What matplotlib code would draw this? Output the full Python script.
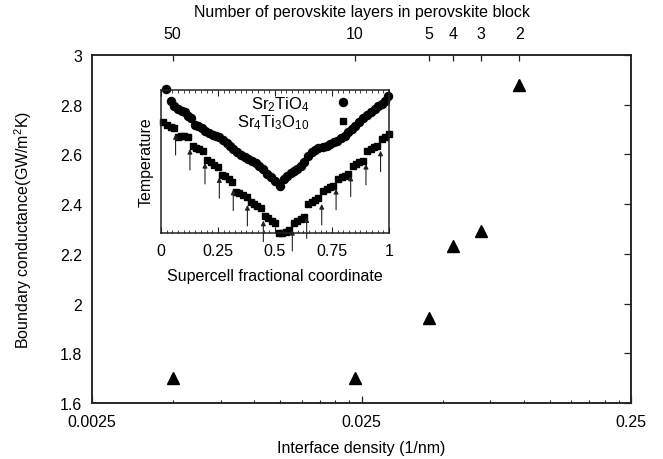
import matplotlib
matplotlib.use("Agg")
import matplotlib.pyplot as plt

plt.rcParams['font.family'] = ['Liberation Sans', 'DejaVu Sans']
plt.rcParams['mathtext.fontset'] = 'custom'
plt.rcParams['mathtext.rm'] = 'Liberation Sans'
plt.rcParams['mathtext.it'] = 'Liberation Sans:italic'
plt.rcParams['font.size'] = 11.5

# ---------------- main data ----------------
interface_density = [0.00498, 0.0236, 0.0446, 0.0545, 0.0694, 0.0962]   # 1/nm
n_layers = [50, 10, 5, 4, 3, 2]
conductance = [1.70, 1.70, 1.94, 2.23, 2.29, 2.88]                      # GW/m^2K

x_major = [0.0025, 0.025, 0.25]
x_major_labels = ["0.0025", "0.025", "0.25"]
y_ticks = [1.6, 1.8, 2.0, 2.2, 2.4, 2.6, 2.8, 3.0]
y_tick_labels = ["1.6", "1.8", "2", "2.2", "2.4", "2.6", "2.8", "3"]

# ---------------- inset data (normalised temperature) ----------------
sr2_x = [0.020, 0.042, 0.058, 0.076, 0.091, 0.105, 0.120, 0.130, 0.149, 0.164,
         0.178, 0.193, 0.212, 0.227, 0.241, 0.256, 0.270, 0.288, 0.303, 0.317,
         0.335, 0.349, 0.368, 0.383, 0.398, 0.417, 0.431, 0.449, 0.463, 0.481,
         0.500, 0.522, 0.539, 0.554, 0.569, 0.583, 0.598, 0.613, 0.627, 0.646,
         0.661, 0.675, 0.690, 0.709, 0.727, 0.741, 0.759, 0.773, 0.788, 0.807,
         0.822, 0.836, 0.851, 0.870, 0.887, 0.905, 0.920, 0.939, 0.953, 0.968,
         0.982, 0.997]
sr2_t = [1.005, 0.923, 0.884, 0.865, 0.854, 0.842, 0.819, 0.800, 0.754, 0.745,
         0.731, 0.715, 0.698, 0.684, 0.680, 0.668, 0.652, 0.629, 0.610, 0.587,
         0.564, 0.545, 0.529, 0.517, 0.503, 0.490, 0.471, 0.448, 0.413, 0.390,
         0.367, 0.327, 0.378, 0.401, 0.420, 0.434, 0.448, 0.471, 0.499, 0.536,
         0.564, 0.580, 0.592, 0.603, 0.610, 0.622, 0.633, 0.645, 0.661, 0.680,
         0.703, 0.726, 0.749, 0.777, 0.800, 0.824, 0.847, 0.865, 0.884, 0.900,
         0.923, 0.958]

sr4_x = [0.010, 0.028, 0.042, 0.057,
         0.073, 0.088, 0.102, 0.117,
         0.139, 0.154, 0.168, 0.183,
         0.203, 0.219, 0.234, 0.249,
         0.266, 0.281, 0.298, 0.313,
         0.329, 0.344, 0.361, 0.376,
         0.393, 0.408, 0.423, 0.437,
         0.456, 0.471, 0.485, 0.500, 0.518, 0.532, 0.547, 0.563,
         0.583, 0.598, 0.613, 0.627,
         0.646, 0.661, 0.675, 0.690,
         0.712, 0.727, 0.741, 0.756,
         0.778, 0.792, 0.807, 0.822,
         0.841, 0.855, 0.870, 0.885,
         0.905, 0.920, 0.934, 0.949,
         0.968, 0.982, 1.000]
sr4_t = [0.773, 0.754, 0.738, 0.731,
         0.673, 0.675, 0.675, 0.668,
         0.606, 0.594, 0.587, 0.575,
         0.513, 0.494, 0.478, 0.464,
         0.406, 0.397, 0.378, 0.360,
         0.290, 0.281, 0.267, 0.251,
         0.216, 0.204, 0.188, 0.174,
         0.123, 0.104, 0.088, 0.072, 0.002, 0.000, 0.007, 0.021,
         0.072, 0.086, 0.100, 0.114,
         0.204, 0.216, 0.232, 0.244,
         0.297, 0.309, 0.320, 0.332,
         0.378, 0.390, 0.401, 0.413,
         0.471, 0.483, 0.494, 0.506,
         0.575, 0.587, 0.599, 0.610,
         0.657, 0.668, 0.691]

arrow_x = [0.064, 0.127, 0.193, 0.256, 0.317, 0.379, 0.449,
           0.576, 0.639, 0.705, 0.768, 0.832, 0.899, 0.963]
arrow_tip = [0.691, 0.587, 0.490, 0.390, 0.304, 0.197, 0.088,
             0.023, 0.111, 0.204, 0.309, 0.401, 0.483, 0.575]
arrow_len = 0.146

inset_ticks = [0, 0.25, 0.5, 0.75, 1]
inset_tick_labels = ["0", "0.25", "0.5", "0.75", "1"]

INK = '#222222'
FS = 11.5

fig = plt.figure(figsize=(6.63, 4.60), dpi=100)
ax = fig.add_axes([0.1388, 0.1217, 0.8129, 0.7566])

ax.plot(interface_density, conductance, linestyle='none', marker='^',
        ms=9, color='black', clip_on=False)

ax.set_xscale('log')
ax.set_xlim(0.0025, 0.25)
ax.set_ylim(1.6, 3.0)
ax.set_xticks(x_major)
ax.set_xticklabels(x_major_labels)
minor = [k * d for d in (0.0025, 0.025) for k in range(2, 10)]
ax.set_xticks(minor, minor=True)
ax.set_xticklabels([], minor=True)
ax.set_yticks(y_ticks)
ax.set_yticklabels(y_tick_labels)

for s in ax.spines.values():
    s.set_color(INK)
    s.set_linewidth(1.1)

ax.tick_params(axis='x', which='major', direction='in', length=5, width=0.9,
               color=INK, top=False, bottom=True, pad=8, labelsize=FS)
ax.tick_params(axis='x', which='minor', direction='in', length=2.5, width=0.8,
               color=INK, top=False, bottom=True)
ax.tick_params(axis='y', which='major', direction='in', length=5, width=0.9,
               color=INK, left=False, right=True, labelleft=True,
               labelright=False, pad=7, labelsize=FS)

ax.set_xlabel("Interface density (1/nm)", fontsize=FS, labelpad=8)
ax.set_ylabel("Boundary conductance(GW/m$^2$K)", fontsize=FS, labelpad=19)

# top axis: number of perovskite layers
axt = ax.twiny()
axt.set_xscale('log')
axt.set_xlim(ax.get_xlim())
axt.set_xticks(interface_density)
axt.set_xticklabels([str(n) for n in n_layers])
axt.set_xticks([], minor=True)
axt.tick_params(axis='x', direction='in', length=4.5, width=0.9, color=INK,
                pad=10, labelsize=FS)
axt.set_xlabel("Number of perovskite layers in perovskite block",
               fontsize=FS, labelpad=7)
for s in axt.spines.values():
    s.set_color(INK)
    s.set_linewidth(1.1)

# ---------------- inset ----------------
ins = fig.add_axes([0.2428, 0.4907, 0.3439, 0.3122])
ins.plot(sr2_x, sr2_t, linestyle='none', marker='o', ms=5.8, color='black',
         clip_on=False, label='Sr$_2$TiO$_4$')
ins.plot(sr4_x, sr4_t, linestyle='none', marker='s', ms=4.8, color='black',
         clip_on=False, label='Sr$_4$Ti$_3$O$_{10}$')
for xa, ta in zip(arrow_x, arrow_tip):
    ins.annotate('', xy=(xa, ta), xytext=(xa, ta - arrow_len),
                 arrowprops=dict(arrowstyle='-|>', color=INK, lw=0.8,
                                 mutation_scale=7, shrinkA=0, shrinkB=0),
                 annotation_clip=False)
ins.set_xlim(0, 1)
ins.set_ylim(0, 1)
ins.set_xticks(inset_ticks)
ins.set_xticklabels(inset_tick_labels)
ins.set_xticks([i * 0.025 for i in range(41)], minor=True)
ins.set_yticks([])
ins.tick_params(axis='x', which='major', direction='in', length=4, width=0.8,
                color=INK, top=True, bottom=True, pad=7, labelsize=FS)
ins.tick_params(axis='x', which='minor', direction='in', length=2, width=0.6,
                color=INK, top=True, bottom=True)
for s in ins.spines.values():
    s.set_color(INK)
    s.set_linewidth(1.1)
ins.set_xlabel("Supercell fractional coordinate", fontsize=FS, labelpad=7)
ins.set_ylabel("Temperature", fontsize=FS, labelpad=5)
ins.legend(loc='upper right', bbox_to_anchor=(0.87, 0.97), frameon=False,
           markerfirst=False, fontsize=12, handlelength=2.0,
           handletextpad=1.0, borderpad=0, borderaxespad=0, labelspacing=0.0)

fig.savefig("out.png", dpi=100)
